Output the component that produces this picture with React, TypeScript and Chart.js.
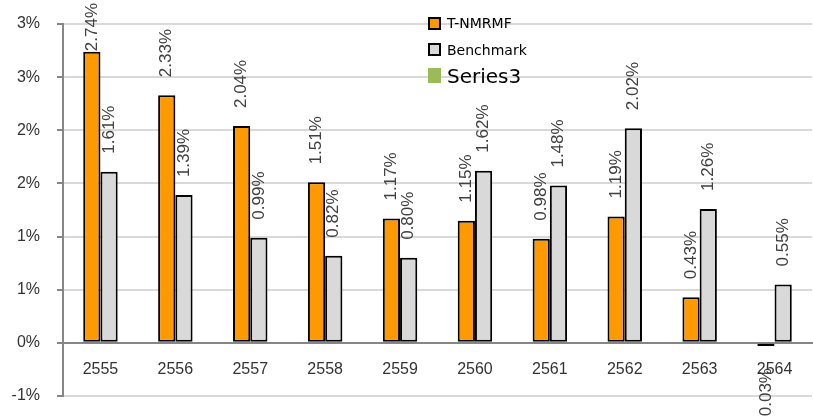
import React, { useEffect, useRef } from "react";
import { Chart, registerables } from "chart.js";

Chart.register(...registerables);

const categories = ["2555", "2556", "2557", "2558", "2559", "2560", "2561", "2562", "2563", "2564"];
const tnmrmf = [2.74, 2.33, 2.04, 1.51, 1.17, 1.15, 0.98, 1.19, 0.43, -0.03];
const benchmark = [1.61, 1.39, 0.99, 0.82, 0.8, 1.62, 1.48, 2.02, 1.26, 0.55];
const seriesNames = ["T-NMRMF", "Benchmark", "Series3"];
const seriesColors = ["#FF9900", "#D9D9D9", "#9BBB59"];

const labelPlugin = {
  id: "barLabels",
  afterDatasetsDraw(chart: any) {
    const ctx = chart.ctx;
    ctx.save();
    ctx.font = "17px 'Liberation Sans', Arial, sans-serif";
    ctx.fillStyle = "#404040";
    ctx.textBaseline = "middle";
    chart.data.datasets.forEach((ds: any, di: number) => {
      const meta = chart.getDatasetMeta(di);
      meta.data.forEach((el: any, i: number) => {
        const v = ds.data[i];
        const txt = v.toFixed(2) + "%";
        const w = ctx.measureText(txt).width;
        ctx.save();
        if (v >= 0) {
          let a = el.y - 18;
          if (a - w < 3) a = w + 3;
          ctx.translate(el.x, a);
          ctx.rotate(-Math.PI / 2);
          ctx.textAlign = "left";
        } else {
          const a = el.y + 22;
          ctx.translate(el.x, a);
          ctx.rotate(-Math.PI / 2);
          ctx.textAlign = "right";
        }
        ctx.fillText(txt, 0, 0);
        ctx.restore();
      });
    });
    ctx.restore();
  },
};

export default function App() {
  const ref = useRef<HTMLCanvasElement>(null);
  useEffect(() => {
    const chart = new Chart(ref.current!, {
      type: "bar",
      data: {
        labels: categories,
        datasets: [
          {
            label: seriesNames[0],
            data: tnmrmf,
            backgroundColor: seriesColors[0],
            borderColor: "#000",
            borderWidth: 2,
            borderSkipped: false,
            categoryPercentage: 0.46,
            barPercentage: 1,
          },
          {
            label: seriesNames[1],
            data: benchmark,
            backgroundColor: seriesColors[1],
            borderColor: "#000",
            borderWidth: 2,
            borderSkipped: false,
            categoryPercentage: 0.46,
            barPercentage: 1,
          },
        ],
      },
      options: {
        animation: false,
        responsive: true,
        maintainAspectRatio: false,
        layout: { padding: { top: 24, bottom: 21, right: 1, left: 0 } },
        plugins: { legend: { display: false }, tooltip: { enabled: false } },
        scales: {
          x: {
            type: "category",
            position: { y: 0 } as any,
            offset: true,
            afterFit: (s: any) => {
              s.height = 0;
              s.paddingTop = 0;
              s.paddingBottom = 0;
            },
            grid: { display: false, drawTicks: false },
            border: { display: true, color: "#868686", width: 2 },
            ticks: {
              padding: 17,
              color: "#333",
              font: { family: "'Liberation Sans', Arial, sans-serif", size: 16 },
              maxRotation: 0,
            },
          },
          y: {
            min: -0.5,
            max: 3,
            afterFit: (s: any) => {
              s.width = 63;
              s.paddingTop = 0;
              s.paddingBottom = 0;
            },
            grid: { color: "#D9D9D9", lineWidth: 2, tickColor: "#868686", tickLength: 6 },
            border: { display: true, color: "#868686", width: 2 },
            ticks: {
              stepSize: 0.5,
              padding: 17,
              color: "#333",
              font: { family: "'Liberation Sans', Arial, sans-serif", size: 16 },
              callback: (v: any) => {
                const n = Number(v);
                const r = Math.sign(n) * Math.round(Math.abs(n));
                return (r === 0 ? 0 : r) + "%";
              },
            },
          },
        },
      },
      plugins: [labelPlugin],
    });
    return () => chart.destroy();
  }, []);

  const legendItems = [
    { name: seriesNames[0], color: seriesColors[0], top: 17, size: 14, box: 13, border: true, textTop: 23 },
    { name: seriesNames[1], color: seriesColors[1], top: 43, size: 14, box: 13, border: true, textTop: 50 },
    { name: seriesNames[2], color: seriesColors[2], top: 68, size: 20, box: 15, border: false, textTop: 76 },
  ];

  return (
    <div style={{ position: "absolute", left: 0, top: 0, width: 813, height: 417, background: "#fff" }}>
      <canvas ref={ref} />
      {legendItems.map((it) => (
        <React.Fragment key={it.name}>
          <div
            style={{
              position: "absolute",
              left: 428,
              top: it.top,
              width: it.border ? it.box - 4 : 13,
              height: it.border ? it.box - 4 : it.box,
              background: it.color,
              border: it.border ? "2px solid #000" : "none",
            }}
          />
          <div
            style={{
              position: "absolute",
              left: 447,
              top: it.textTop,
              transform: "translateY(-50%)",
              fontFamily: "'DejaVu Sans', Verdana, sans-serif",
              fontSize: it.size,
              lineHeight: 1,
              color: "#000",
              whiteSpace: "nowrap",
            }}
          >
            {it.name}
          </div>
        </React.Fragment>
      ))}
    </div>
  );
}
